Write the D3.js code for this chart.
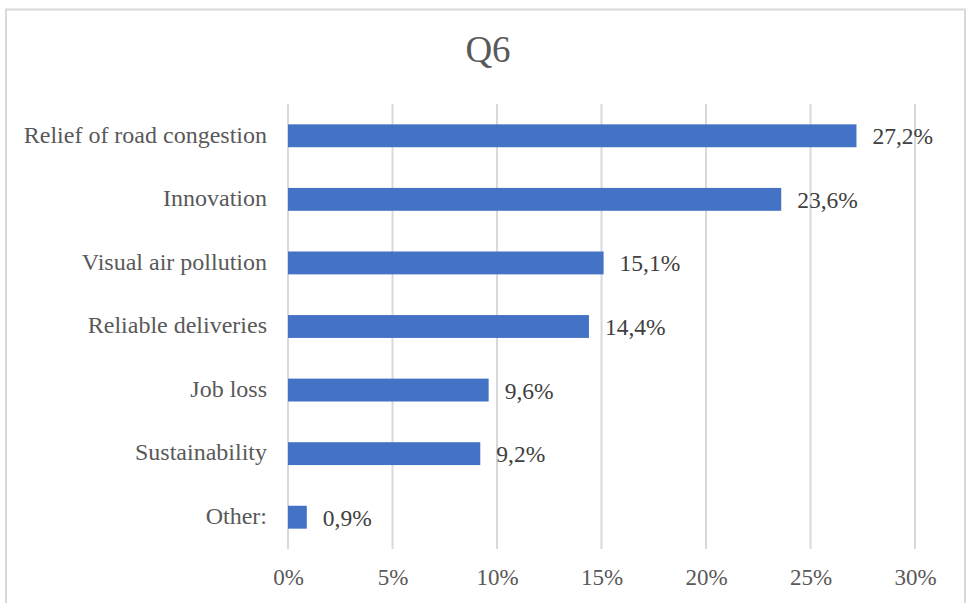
<!DOCTYPE html>
<html>
<head>
<meta charset="utf-8">
<script src="https://cdn.jsdelivr.net/npm/d3@7"></script>
<style>
  html, body { margin: 0; padding: 0; background: #fff; }
  svg { display: block; }
</style>
</head>
<body>
<script>
// Survey answers for Q6 (share of respondents, %)
const categories = [
  "Relief of road congestion",
  "Innovation",
  "Visual air pollution",
  "Reliable deliveries",
  "Job loss",
  "Sustainability",
  "Other:"
];
const values = [27.2, 23.6, 15.1, 14.4, 9.6, 9.2, 0.9];
const tickValues = [0, 5, 10, 15, 20, 25, 30];
const chartTitle = "Q6";

const W = 968, H = 603;
const font = "'Liberation Serif', 'Times New Roman', serif";
const textColor = "#595959";

const svg = d3.select("body").append("svg")
  .attr("width", W).attr("height", H);

// chart frame
svg.append("rect")
  .attr("x", 6).attr("y", 9.5)
  .attr("width", 959).attr("height", 620)
  .attr("fill", "#fff")
  .attr("stroke", "#d9d9d9").attr("stroke-width", 2);

const plot = { left: 288, right: 915, top: 104, bottom: 549 };

const x = d3.scaleLinear().domain([0, 30]).range([plot.left, plot.right]);
const y = d3.scaleBand().domain(categories)
  .range([plot.top, plot.bottom]).paddingInner(0.64).paddingOuter(0.32);

// title
svg.append("text")
  .attr("x", 488).attr("y", 62)
  .attr("text-anchor", "middle")
  .attr("font-family", font).attr("font-size", 37)
  .attr("fill", textColor)
  .text(chartTitle);

// vertical gridlines
svg.append("g").selectAll("line").data(tickValues).join("line")
  .attr("x1", d => x(d)).attr("x2", d => x(d))
  .attr("y1", plot.top).attr("y2", plot.bottom)
  .attr("stroke", "#d9d9d9").attr("stroke-width", 2);

// x axis tick labels
const xAxis = d3.axisBottom(x).tickValues(tickValues)
  .tickFormat(d => d + "%").tickSize(0).tickPadding(0);
const gx = svg.append("g")
  .attr("transform", `translate(0,${plot.bottom})`)
  .call(xAxis);
gx.select(".domain").remove();
gx.selectAll("text")
  .attr("dy", null).attr("y", 36)
  .attr("font-family", font).attr("font-size", 23)
  .attr("fill", textColor);

// y axis category labels
const yAxis = d3.axisLeft(y).tickSize(0).tickPadding(0);
const gy = svg.append("g")
  .attr("transform", `translate(${plot.left - 21},0)`)
  .call(yAxis);
gy.select(".domain").remove();
gy.selectAll("text")
  .attr("dy", "0.28em")
  .attr("font-family", font).attr("font-size", 24)
  .attr("fill", textColor);

// bars
const data = categories.map((c, i) => ({ c, v: values[i] }));
svg.append("g").selectAll("rect").data(data).join("rect")
  .attr("x", x(0))
  .attr("y", d => y(d.c))
  .attr("width", d => x(d.v) - x(0))
  .attr("height", y.bandwidth())
  .attr("fill", "#4472c4");

// value labels
svg.append("g").selectAll("text").data(data).join("text")
  .attr("x", d => x(d.v) + 16)
  .attr("y", d => y(d.c) + y.bandwidth() / 2)
  .attr("dy", "0.36em")
  .attr("font-family", font).attr("font-size", 23.5)
  .attr("fill", "#404040")
  .text(d => d.v.toFixed(1).replace(".", ",") + "%");
</script>
</body>
</html>
